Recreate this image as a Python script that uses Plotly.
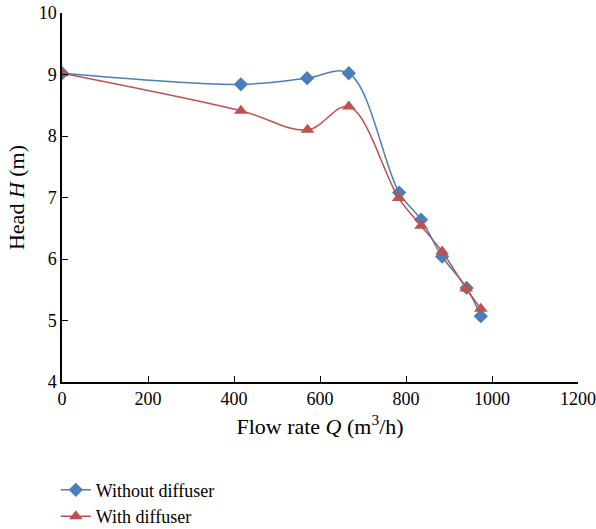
import plotly.graph_objects as go

q_without = [0, 416, 570, 667, 784, 835, 884, 941, 974]
h_without = [9.02, 8.84, 8.94, 9.02, 7.08, 6.64, 6.04, 5.53, 5.07]
q_with = [0, 416, 571, 667, 783, 835, 884, 940, 974]
h_with = [9.02, 8.41, 8.10, 8.48, 6.99, 6.54, 6.12, 5.52, 5.19]

blue = "#4a7ebb"
red = "#c0504d"
font_family = "Liberation Serif"

fig = go.Figure()
fig.add_trace(go.Scatter(
    x=q_without, y=h_without, name="Without diffuser", mode="lines+markers",
    line=dict(color=blue, width=1.5, shape="spline", smoothing=1.0),
    marker=dict(symbol="diamond", size=11, color=blue),
))
fig.add_trace(go.Scatter(
    x=q_with, y=h_with, name="With diffuser", mode="lines+markers",
    line=dict(color=red, width=1.5, shape="spline", smoothing=1.0),
    marker=dict(symbol="triangle-up", size=12, color=red),
))

fig.update_layout(
    width=596, height=529,
    margin=dict(l=62, r=18, t=13, b=147, autoexpand=False),
    paper_bgcolor="white", plot_bgcolor="white",
    font=dict(family=font_family, size=18, color="black"),
    showlegend=True,
    legend=dict(x=-0.012, y=-0.243, xanchor="left", yanchor="top",
                font=dict(size=18), tracegroupgap=0,
                bgcolor="rgba(0,0,0,0)"),
    xaxis=dict(
        range=[0, 1200], tickvals=[0, 200, 400, 600, 800, 1000, 1200],
        showgrid=False, zeroline=False, showline=True, linecolor="black", linewidth=1.5,
        ticks="inside", ticklen=6, tickcolor="black", automargin=False,
        title=dict(text="Flow rate <i>Q</i> (m<sup>3</sup>/h)", standoff=10),
    ),
    yaxis=dict(
        range=[4, 10], tickvals=[4, 5, 6, 7, 8, 9, 10],
        showgrid=False, zeroline=False, showline=True, linecolor="black", linewidth=1.5,
        ticks="inside", ticklen=6, tickcolor="black", automargin=False,
        title=dict(text="Head <i>H</i> (m)", standoff=8),
    ),
)

fig.write_html("out.html")
